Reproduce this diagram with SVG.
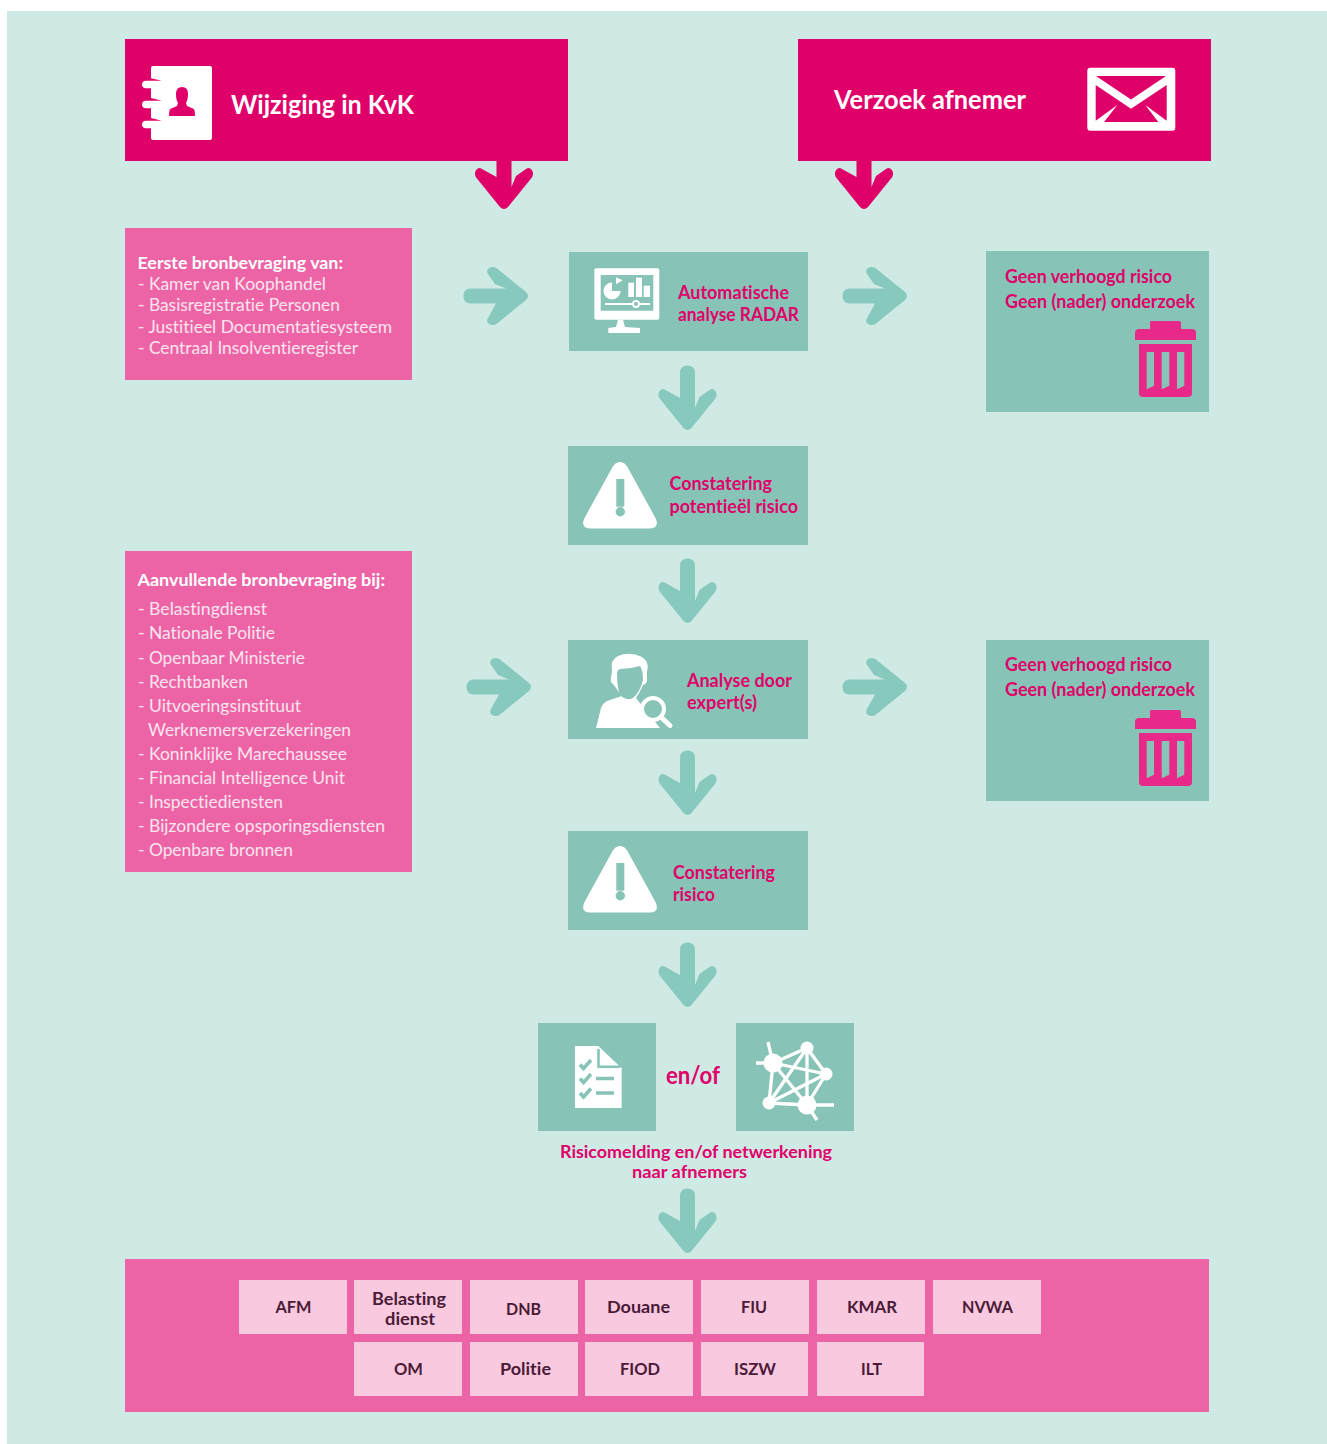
<svg xmlns="http://www.w3.org/2000/svg" width="1327" height="1444" viewBox="0 0 1327 1444">
<style>
text{font-family:"Lato","Noto Sans","Liberation Sans",sans-serif;font-variant-ligatures:none;}
.bg{fill:#cfe9e5}
.mag{fill:#e0006a}
.pink{fill:#ed64a6}
.teal{fill:#87c4b7}
.lp{fill:#f8c9df}
.wh{fill:#fff}
.tl{fill:#e0006a;font-weight:700;font-size:18px}
.tm{fill:#e0006a;font-weight:700;font-size:16.500px}
.hd{fill:#fff;font-weight:700;font-size:27px}
.sh{fill:#fff;font-weight:700;font-size:17.500px}
.li{fill:#fde4ef;font-weight:400;font-size:17.500px}
.ag{fill:#4a1a36;font-weight:700;font-size:17.500px}
.ag2{fill:#4a1a36;font-weight:700;font-size:16.500px}
.tr{fill:#e8298a}
.arrow-t{fill:#87cabd}
</style>
<defs>
<path id="arrow" d="M-7.5-57Q-7.5-64.5 0-64.5Q7.5-64.5 7.5-57L7.5-22L12-33L22-40Q26-42.500 28.500-38Q30-34 27.500-31L4-2Q0 2-4-2L-27.500-31Q-30-34-28.500-38Q-26-42.500-22-40L-7.500-32Z"/>
<g id="warn">
<path class="wh" d="M620 462Q625 462 628 468L655.500 518Q660 528 650 528.500L590 528.500Q580 528 584.500 518L612 468Q615 462 620 462Z"/>
<rect class="teal" x="616.300" y="479" width="8" height="27.700"/>
<circle class="teal" cx="620.300" cy="511.700" r="4.700"/>
</g>
<g id="trash" class="tr">
<path d="M1150 321.500Q1150 321 1152 321L1179 321Q1181 321 1181 323L1181 329L1192 329Q1196 329 1196 333L1196 340L1135 340L1135 333Q1135 329 1139 329L1150 329Z"/>
<path fill-rule="evenodd" d="M1139 344L1192 344L1192 393Q1192 397 1188 397L1143 397Q1139 397 1139 393ZM1146.700 352V389.300L1154 385.700V352ZM1161.700 352V389.300L1169.300 385.700V352ZM1177 352V389.300L1184.300 385.700V352Z"/>
</g>
</defs>
<rect class="bg" x="7" y="11" width="1320" height="1433"/>
<g id="connectors">
<use href="#arrow" class="mag" transform="translate(504,209)"/>
<use href="#arrow" class="mag" transform="translate(864,209)"/>
<use href="#arrow" class="arrow-t" transform="translate(687.500,430)"/>
<use href="#arrow" class="arrow-t" transform="translate(687.500,623)"/>
<use href="#arrow" class="arrow-t" transform="translate(687.500,815)"/>
<use href="#arrow" class="arrow-t" transform="translate(687.500,1007)"/>
<use href="#arrow" class="arrow-t" transform="translate(687.500,1253)"/>
<use href="#arrow" class="arrow-t" transform="translate(528,296) rotate(-90)"/>
<use href="#arrow" class="arrow-t" transform="translate(907,296) rotate(-90)"/>
<use href="#arrow" class="arrow-t" transform="translate(531,687) rotate(-90)"/>
<use href="#arrow" class="arrow-t" transform="translate(907,687) rotate(-90)"/>
</g>
<g id="node-kvk">
<rect class="mag" x="125" y="39" width="443" height="122"/>
<path class="wh" d="M153 66H210Q212 66 212 68V138Q212 140 210 140H153Q151 140 151 138V128.300H146Q142 128.300 142 124.500Q142 120.700 146 120.700H151V108.300H146Q142 108.300 142 104.500Q142 100.700 146 100.700H151V88.300H146Q142 88.300 142 84.500Q142 80.700 146 80.700H151V68Q151 66 153 66Z"/>
<path class="mag" d="M151 78.300L161.700 80.700L151 80.700ZM151 98L161.700 100.700L151 100.700ZM151 118L161.700 120.700L151 120.700Z"/>
<path class="mag" d="M182 87Q188 87 188 94Q188 100 186 103L187 106L194 109Q195 111 195 116H169Q169 111 170 109L177 106L178 103Q176 100 176 94Q176 87 182 87Z"/>
<text class="hd" x="231" y="113.500" textLength="183" lengthAdjust="spacingAndGlyphs">Wijziging in KvK</text>
</g>
<g id="node-verzoek">
<rect class="mag" x="798" y="39" width="413" height="122"/>
<rect class="wh" x="1087.300" y="67.700" width="88" height="63" rx="3"/>
<path class="mag" d="M1096 76H1166L1131 99.500ZM1095.700 85L1131 108.700L1166.700 85V120.700L1145.300 105L1158.300 122H1104L1117.300 105L1095.700 120.700Z"/>
<text class="hd" x="834" y="108.500" textLength="192" lengthAdjust="spacingAndGlyphs">Verzoek afnemer</text>
</g>
<g id="node-eerste">
<rect class="pink" x="125" y="228" width="287" height="152"/>
<text class="sh" x="137.500" y="269" textLength="205.500" lengthAdjust="spacingAndGlyphs">Eerste bronbevraging van:</text>
<text class="li" x="138" y="290" textLength="188" lengthAdjust="spacingAndGlyphs">- Kamer van Koophandel</text>
<text class="li" x="138" y="311" textLength="202" lengthAdjust="spacingAndGlyphs">- Basisregistratie Personen</text>
<text class="li" x="138" y="333" textLength="254" lengthAdjust="spacingAndGlyphs">- Justitieel Documentatiesysteem</text>
<text class="li" x="138" y="354" textLength="220" lengthAdjust="spacingAndGlyphs">- Centraal Insolventieregister</text>
</g>
<g id="node-radar">
<rect class="teal" x="569" y="252" width="239" height="99"/>
<rect class="wh" x="594.300" y="268.300" width="65" height="51.400" rx="2"/>
<rect class="teal" x="600.700" y="275" width="52.600" height="35.700"/>
<path class="wh" d="M612 291L620.500 291A8.500 8.500 0 1 1 612 282.500ZM616 277.300L622.700 280.300L616 284.300Z"/>
<rect class="wh" x="628.300" y="282.700" width="5.700" height="14.300"/>
<rect class="wh" x="636" y="277.700" width="6" height="19.300"/>
<rect class="wh" x="643.700" y="285.700" width="6.300" height="11.300"/>
<rect class="wh" x="605" y="303" width="45" height="2"/>
<circle class="teal" cx="636" cy="304" r="3" stroke="#fff" stroke-width="2"/>
<path class="wh" d="M618 319.700H623L625 327L640 328V333H608.300V328L616 327Z"/>
<text class="tl" x="678" y="298.500" textLength="111" lengthAdjust="spacingAndGlyphs">Automatische</text>
<text class="tl" x="678" y="321" textLength="121" lengthAdjust="spacingAndGlyphs">analyse RADAR</text>
</g>
<g id="node-geen1">
<rect class="teal" x="986" y="251" width="223" height="161"/>
<text class="tl" x="1005" y="283" textLength="167" lengthAdjust="spacingAndGlyphs">Geen verhoogd risico</text>
<text class="tl" x="1005" y="308" textLength="190" lengthAdjust="spacingAndGlyphs">Geen (nader) onderzoek</text>
<use href="#trash"/>
</g>
<g id="node-potentieel">
<rect class="teal" x="568" y="446" width="240" height="99"/>
<use href="#warn"/>
<text class="tl" x="669.500" y="490" textLength="102.500" lengthAdjust="spacingAndGlyphs">Constatering</text>
<text class="tl" x="669.500" y="513" textLength="128.500" lengthAdjust="spacingAndGlyphs">potentieël risico</text>
</g>
<g id="node-aanvullend">
<rect class="pink" x="125" y="551" width="287" height="321"/>
<text class="sh" x="137.500" y="586" textLength="247.500" lengthAdjust="spacingAndGlyphs">Aanvullende bronbevraging bij:</text>
<text class="li" x="138" y="615" textLength="129" lengthAdjust="spacingAndGlyphs">- Belastingdienst</text>
<text class="li" x="138" y="639" textLength="137" lengthAdjust="spacingAndGlyphs">- Nationale Politie</text>
<text class="li" x="138" y="664" textLength="167" lengthAdjust="spacingAndGlyphs">- Openbaar Ministerie</text>
<text class="li" x="138" y="688" textLength="110" lengthAdjust="spacingAndGlyphs">- Rechtbanken</text>
<text class="li" x="138" y="712" textLength="163" lengthAdjust="spacingAndGlyphs">- Uitvoeringsinstituut</text>
<text class="li" x="148" y="736" textLength="203" lengthAdjust="spacingAndGlyphs">Werknemersverzekeringen</text>
<text class="li" x="138" y="760" textLength="209" lengthAdjust="spacingAndGlyphs">- Koninklijke Marechaussee</text>
<text class="li" x="138" y="784" textLength="207" lengthAdjust="spacingAndGlyphs">- Financial Intelligence Unit</text>
<text class="li" x="138" y="808" textLength="145" lengthAdjust="spacingAndGlyphs">- Inspectiediensten</text>
<text class="li" x="138" y="832" textLength="247" lengthAdjust="spacingAndGlyphs">- Bijzondere opsporingsdiensten</text>
<text class="li" x="138" y="856" textLength="155" lengthAdjust="spacingAndGlyphs">- Openbare bronnen</text>
</g>
<g id="node-expert">
<rect class="teal" x="568" y="640" width="240" height="99"/>
<path class="wh" d="M596 728L601 708Q603 702 610 700L622 696L613 684Q610 682 611 678L612 670Q610 660 618 656Q630 651 642 657Q650 662 647 672L647 680Q647 684 643 685Q640 692 636 698L660 728Z"/>
<path class="teal" d="M617 673Q617 670 620 669Q630 669 640 666Q643 670 643 680Q640 692 633 698Q628 702 621 696Q617 690 617 673Z"/>
<path class="wh" d="M620 696Q627 702 636 697L634 700Q627 705 621 700Z"/>
<circle class="teal" cx="653" cy="709" r="11" stroke="#fff" stroke-width="4"/>
<path d="M663 719L670 725.500" stroke="#fff" stroke-width="5" stroke-linecap="round"/>
<text class="tl" x="687" y="687" textLength="105" lengthAdjust="spacingAndGlyphs">Analyse door</text>
<text class="tl" x="687" y="709" textLength="70" lengthAdjust="spacingAndGlyphs">expert(s)</text>
</g>
<g id="node-geen2">
<rect class="teal" x="986" y="640" width="223" height="161"/>
<text class="tl" x="1005" y="671" textLength="167" lengthAdjust="spacingAndGlyphs">Geen verhoogd risico</text>
<text class="tl" x="1005" y="696" textLength="190" lengthAdjust="spacingAndGlyphs">Geen (nader) onderzoek</text>
<use href="#trash" y="389"/>
</g>
<g id="node-risico">
<rect class="teal" x="568" y="831" width="240" height="99"/>
<use href="#warn" y="384"/>
<text class="tl" x="673" y="879" textLength="102" lengthAdjust="spacingAndGlyphs">Constatering</text>
<text class="tl" x="673" y="901" textLength="42" lengthAdjust="spacingAndGlyphs">risico</text>
</g>
<g id="node-melding">
<rect class="teal" x="538" y="1023" width="118" height="108"/>
<path class="wh" d="M575 1046H598.300L621.700 1068.300V1108H575Z"/>
<path d="M598.500 1049V1066.700H620" fill="none" stroke="#87c4b7" stroke-width="2.500"/>
<path d="M580 1064.500L583.500 1068.500L591 1060M580 1078.500L583.500 1082.500L591 1074M580 1093L583.500 1097L591 1088.500M596 1078.500H614M596 1093H614" fill="none" stroke="#87c4b7" stroke-width="3.500"/>
</g>
<text id="enof" x="666" y="1084" textLength="54" lengthAdjust="spacingAndGlyphs" fill="#e0006a" font-size="25" font-weight="700">en/of</text>
<g id="node-netwerk">
<rect class="teal" x="736" y="1023" width="118" height="108"/>
<g stroke="#fff" stroke-width="3.300" fill="none">
<path d="M773 1063L807 1048M773 1063L826 1074M773 1063L807 1105M773 1063L769 1103M807 1048L826 1074M807 1048L769 1103M807 1048L807 1105M826 1074L769 1103M826 1074L807 1105M769 1103L807 1105M768 1042L773 1063M756 1063L773 1063M807 1105L834 1105M807 1105L817 1120"/>
</g>
<g class="wh">
<circle cx="773" cy="1063" r="9.500"/>
<circle cx="807" cy="1048" r="6.500"/>
<circle cx="826" cy="1074" r="6.500"/>
<circle cx="769" cy="1103" r="6.500"/>
<circle cx="807" cy="1105" r="9.500"/>
</g>
</g>
<g id="label-melding">
<text class="tm" x="560" y="1158" textLength="272" lengthAdjust="spacingAndGlyphs">Risicomelding en/of netwerkening</text>
<text class="tm" x="632" y="1178" textLength="115" lengthAdjust="spacingAndGlyphs">naar afnemers</text>
</g>
<g id="node-afnemers">
<rect class="pink" x="125" y="1259" width="1084" height="153"/>
<g id="afn-afm"><rect class="lp" x="239" y="1280" width="108" height="54"/><text class="ag" x="275.500" y="1313" textLength="36" lengthAdjust="spacingAndGlyphs">AFM</text></g>
<g id="afn-bel"><rect class="lp" x="354" y="1280" width="108" height="54"/><text class="ag2" x="372" y="1305" textLength="74" lengthAdjust="spacingAndGlyphs">Belasting</text><text class="ag2" x="385" y="1325" textLength="50" lengthAdjust="spacingAndGlyphs">dienst</text></g>
<g id="afn-dnb"><rect class="lp" x="470" y="1280" width="108" height="54"/><text class="ag" x="506" y="1315" textLength="35" lengthAdjust="spacingAndGlyphs">DNB</text></g>
<g id="afn-dou"><rect class="lp" x="585" y="1280" width="108" height="54"/><text class="ag" x="607" y="1313" textLength="63" lengthAdjust="spacingAndGlyphs">Douane</text></g>
<g id="afn-fiu"><rect class="lp" x="701" y="1280" width="108" height="54"/><text class="ag" x="741" y="1313" textLength="26" lengthAdjust="spacingAndGlyphs">FIU</text></g>
<g id="afn-kmar"><rect class="lp" x="817" y="1280" width="108" height="54"/><text class="ag" x="847" y="1313" textLength="50" lengthAdjust="spacingAndGlyphs">KMAR</text></g>
<g id="afn-nvwa"><rect class="lp" x="933" y="1280" width="108" height="54"/><text class="ag" x="962" y="1313" textLength="51" lengthAdjust="spacingAndGlyphs">NVWA</text></g>
<g id="afn-om"><rect class="lp" x="354" y="1342" width="108" height="54"/><text class="ag" x="394" y="1375" textLength="29" lengthAdjust="spacingAndGlyphs">OM</text></g>
<g id="afn-pol"><rect class="lp" x="470" y="1342" width="108" height="54"/><text class="ag" x="500" y="1375" textLength="51" lengthAdjust="spacingAndGlyphs">Politie</text></g>
<g id="afn-fiod"><rect class="lp" x="585" y="1342" width="108" height="54"/><text class="ag" x="620" y="1375" textLength="40" lengthAdjust="spacingAndGlyphs">FIOD</text></g>
<g id="afn-iszw"><rect class="lp" x="701" y="1342" width="107" height="54"/><text class="ag" x="734" y="1375" textLength="42" lengthAdjust="spacingAndGlyphs">ISZW</text></g>
<g id="afn-ilt"><rect class="lp" x="817" y="1342" width="107" height="54"/><text class="ag" x="861" y="1375" textLength="21" lengthAdjust="spacingAndGlyphs">ILT</text></g>
</g>
</svg>
